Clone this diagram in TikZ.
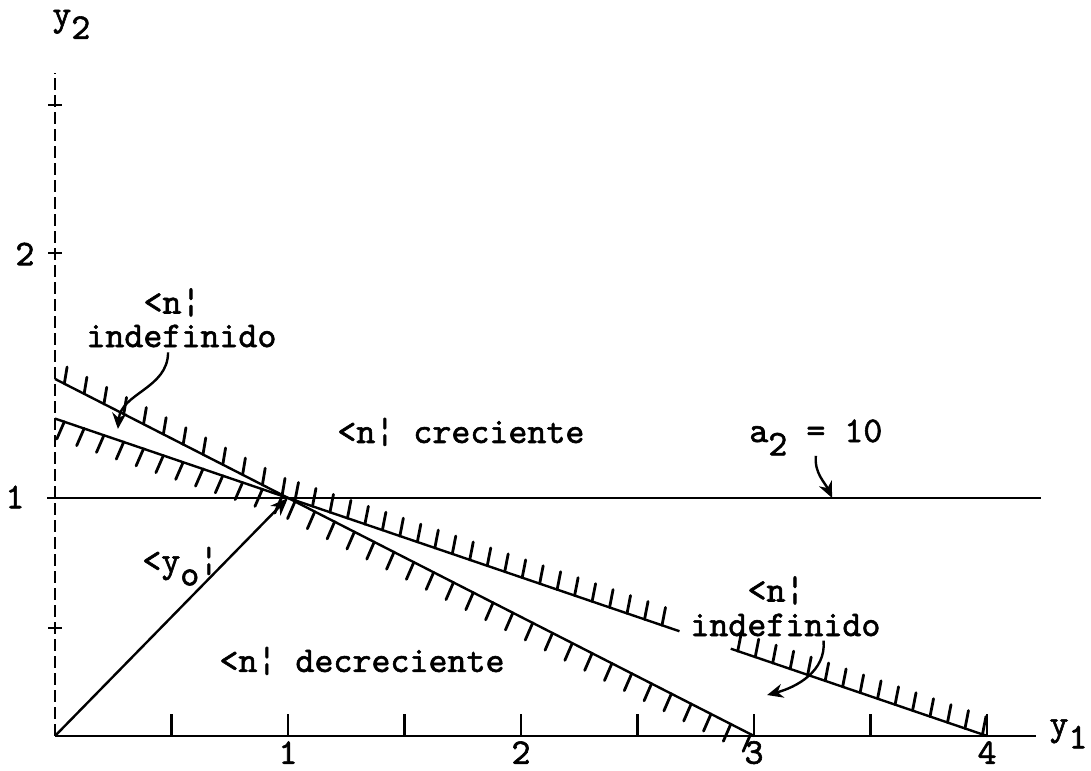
\documentclass[tikz,border=0pt]{standalone}
\usepackage{fontspec}
\newfontfamily\tw{lmmono10-regular}[Extension=.otf, FakeBold=1.6]
\usetikzlibrary{arrows.meta, calc}
\newcommand{\lo}[1]{\raisebox{-0.37em}{#1}}

\begin{document}
\begin{tikzpicture}[>=latex, x=116.5pt, y=119pt,
    txt/.style={font=\tw\fontsize{18.1pt}{19pt}\selectfont, inner sep=0pt},
    ln/.style={line width=1.2pt},
    hatch/.style={line width=1.4pt, line cap=round},
    callout/.style={line width=1.2pt, -{Stealth[length=8pt,width=7pt]}}]

    \useasboundingbox (-0.236,-0.143) rectangle (4.446,3.092);

    % --- Points ---
    \coordinate (O) at (0,0);
    \coordinate (A0) at (0,1.5);
    \coordinate (A1) at (3,0);
    \coordinate (B0) at (0,4/3);
    \coordinate (B1) at (4,0);
    \coordinate (P) at (1,1);
    \coordinate (Bg1) at ($(B0)!0.67!(B1)$);
    \coordinate (Bg2) at ($(B0)!0.725!(B1)$);

    % --- Axes ---
    \draw[ln, dash pattern=on 6pt off 2.5pt] (O) -- (0,2.786) coordinate (ytop);
    \draw[ln] (O) -- (4.21,0) coordinate (xend);
    \foreach \y in {0.454,2.03,2.65}
        \draw[ln] (-0.03,\y) -- (0.03,\y);
    \foreach \x in {0.5,1,...,4}
        \draw[ln] (\x,0) -- (\x,0.092);

    % axis labels
    \node[txt, anchor=base west] (ylab) at (-0.013,2.985) {y\lo{2}};
    \node[txt, anchor=base west] (xlab) at (4.266,0.004) {y\lo{1}};
    \node[txt] (ly1) at (-0.172,1.004) {1};
    \node[txt] (ly2) at (-0.129,2.025) {2};
    \foreach \x in {1,2,3,4}
        \node[txt] (lx\x) at (\x,-0.07) {\x};

    % --- Lines ---
    \draw[ln] (-0.034,1) -- (4.23,1) coordinate (hend);
    \draw[ln] (A0) -- (A1);
    \draw[ln] (B0) -- (Bg1);
    \draw[ln] (Bg2) -- (B1);

    % hatching, line A
    \foreach \x in {0.04,0.125,...,0.98}
        \draw[hatch] (\x,{1.5-\x/2}) -- ++(0.012,0.07);
    \foreach \x in {1.03,1.115,...,2.99}
        \draw[hatch] (\x,{1.5-\x/2}) -- ++(-0.032,-0.072);

    % hatching, line B
    \foreach \x in {0.04,0.125,...,0.98}
        \draw[hatch] (\x,{4/3-\x/3}) -- ++(-0.032,-0.072);
    \foreach \x in {1.03,1.105,...,2.66}
        \draw[hatch] (\x,{4/3-\x/3}) -- ++(0.015,0.075);
    \foreach \x in {2.93,3.005,...,3.99}
        \draw[hatch] (\x,{4/3-\x/3}) -- ++(0.015,0.075);

    % --- Vector y_o ---
    \draw[ln, -{Stealth[length=9pt,width=7pt]}] (O) -- (P);
    \node[txt, anchor=base west] (yo) at (0.373,0.689) {<y\lo{o}¦};

    % --- Region labels ---
    \node[txt, anchor=base west] (cre) at (1.21,1.231) {<n¦ creciente};
    \node[txt, anchor=base west] (dec) at (0.704,0.269) {<n¦ decreciente};
    \node[txt, anchor=base west] (a2) at (2.978,1.235) {a\lo{2} = 10};

    \node[txt, anchor=base west] (nUL) at (0.378,1.775) {<n¦};
    \node[txt, anchor=base west] (indefUL) at (0.133,1.634) {indefinido};
    \node[txt, anchor=base west] (nLR) at (2.97,0.565) {<n¦};
    \node[txt, anchor=base west] (indefLR) at (2.725,0.42) {indefinido};

    % --- Callouts ---
    \coordinate (tUL) at (0.27,1.29);
    \coordinate (tLR) at (3.056,0.172);
    \coordinate (ta2) at (3.335,1.0);
    \draw[callout] ($(indefUL.south west)!0.43!(indefUL.south east)+(0,-0.02)$)
        to[out=-90,in=85] (tUL);
    \draw[callout] ($(indefLR.south west)!0.7!(indefLR.south east)+(0,-0.017)$)
        to[out=-85,in=15] (tLR);
    \draw[callout] (a2.south) to[out=-95,in=115] (ta2);

\end{tikzpicture}
\end{document}
